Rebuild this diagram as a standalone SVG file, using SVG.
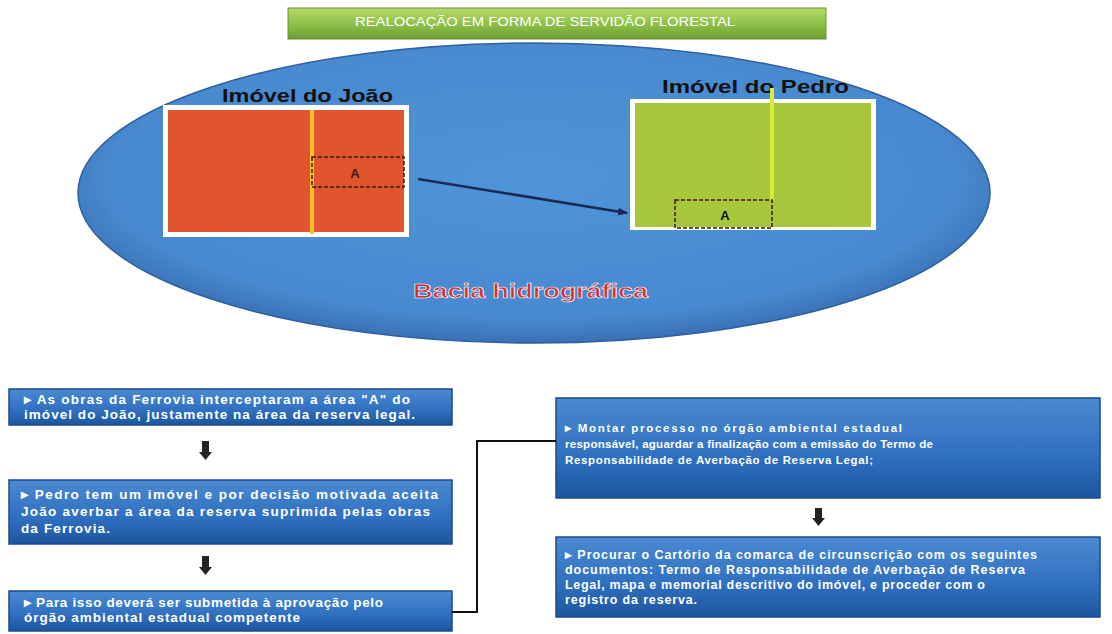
<svg xmlns="http://www.w3.org/2000/svg" width="1112" height="634" viewBox="0 0 1112 634">
<defs>
<linearGradient id="gTitle" x1="0" y1="0" x2="0" y2="1"><stop offset="0" stop-color="#b5dc6a"/><stop offset="0.5" stop-color="#8fc24a"/><stop offset="1" stop-color="#6e9e32"/></linearGradient>
<radialGradient id="gEll" cx="0.5" cy="0.45" r="0.55"><stop offset="0" stop-color="#4f95d8"/><stop offset="0.85" stop-color="#4889cf"/><stop offset="1" stop-color="#3a70b4"/></radialGradient>
<linearGradient id="gBox" x1="0" y1="0" x2="0" y2="1"><stop offset="0" stop-color="#4a8ad2"/><stop offset="0.6" stop-color="#2f6fbf"/><stop offset="1" stop-color="#1d559e"/></linearGradient>
<marker id="ah" markerWidth="10" markerHeight="8" refX="9" refY="4" orient="auto" markerUnits="userSpaceOnUse"><path d="M0,0 L10,4 L0,8 z" fill="#1b2a55"/></marker>
</defs>
<style>
.box{fill:url(#gBox);stroke:#1a4a88;stroke-width:1.5}
.bt{font-family:"Liberation Sans",Arial,sans-serif;font-weight:bold;fill:#ffffff}
.lbl{font-family:"Liberation Sans",Arial,sans-serif;font-weight:bold;fill:#111;font-size:18px}
.dash{fill:none;stroke:#3a1a10;stroke-width:1.5;stroke-dasharray:4 2}
.dn{fill:#222}
</style>
<rect width="1112" height="634" fill="#ffffff"/>
<g id="title">
<rect x="288" y="8" width="538" height="31" fill="url(#gTitle)" stroke="#6a8a3a" stroke-width="1"/>
<text x="355" y="26" font-family="Liberation Sans, Arial, sans-serif" font-size="12" fill="#ffffff" textLength="380" lengthAdjust="spacingAndGlyphs">REALOCAÇÃO EM FORMA DE SERVIDÃO FLORESTAL</text>
</g>
<g id="bacia">
<ellipse cx="534" cy="193" rx="456" ry="150" fill="url(#gEll)" stroke="#2f5f9c" stroke-width="1.5"/>
<text x="413" y="298" font-family="Liberation Sans, Arial, sans-serif" font-weight="bold" font-size="20" fill="#d0303a" stroke="#ffffff" stroke-width="0.6" textLength="235" lengthAdjust="spacingAndGlyphs">Bacia hidrográfica</text>
</g>
<g id="joao">
<text x="222" y="102" class="lbl" textLength="171" lengthAdjust="spacingAndGlyphs">Imóvel do João</text>
<rect x="163" y="105" width="246" height="132" fill="#ffffff"/>
<rect x="168" y="110" width="236" height="122" fill="#e0542e"/>
<rect x="310" y="110" width="4" height="124" fill="#f2c12a"/>
<rect x="312" y="157" width="92" height="30" class="dash"/>
<text x="355" y="178" text-anchor="middle" font-family="Liberation Sans, Arial, sans-serif" font-weight="bold" font-size="13" fill="#3a1a10">A</text>
</g>
<g id="pedro">
<text x="662" y="93" class="lbl" textLength="187" lengthAdjust="spacingAndGlyphs">Imóvel do Pedro</text>
<rect x="630" y="99" width="246" height="131" fill="#ffffff"/>
<rect x="635" y="103" width="236" height="124" fill="#a8c63c"/>
<rect x="770" y="88" width="4" height="112" fill="#d8ec30"/>
<rect x="675" y="200" width="97" height="28" class="dash" stroke="#1a1a10"/>
<text x="725" y="220" text-anchor="middle" font-family="Liberation Sans, Arial, sans-serif" font-weight="bold" font-size="13" fill="#111">A</text>
</g>
<g id="steps">
<g id="box1">
<rect x="9" y="389" width="443" height="36" class="box"/>
<text class="bt" font-size="13.5"><tspan x="24" y="404" textLength="386" lengthAdjust="spacing">▸ As obras da Ferrovia interceptaram a área "A" do</tspan><tspan x="24" y="419" textLength="391" lengthAdjust="spacing">imóvel do João, justamente na área da reserva legal.</tspan></text>
</g>
<g id="box2">
<rect x="9" y="480" width="443" height="64" class="box"/>
<text class="bt" font-size="13.5"><tspan x="21" y="499" textLength="417" lengthAdjust="spacing">▸ Pedro tem um imóvel e por decisão motivada aceita</tspan><tspan x="21" y="516" textLength="409" lengthAdjust="spacing">João averbar a área da reserva suprimida pelas obras</tspan><tspan x="21" y="533" textLength="89" lengthAdjust="spacing">da Ferrovia.</tspan></text>
</g>
<g id="box3">
<rect x="9" y="591" width="443" height="40" class="box"/>
<text class="bt" font-size="13.5"><tspan x="24" y="607" textLength="359" lengthAdjust="spacing">▸ Para isso deverá ser submetida à aprovação pelo</tspan><tspan x="24" y="622" textLength="276" lengthAdjust="spacing">órgão ambiental estadual competente</tspan></text>
</g>
<g id="box4">
<rect x="556" y="398" width="544" height="100" class="box"/>
<text class="bt" font-size="11.5"><tspan x="565" y="432" textLength="337" lengthAdjust="spacing">▸ Montar processo no órgão ambiental estadual</tspan><tspan x="565" y="448" textLength="368" lengthAdjust="spacing">responsável, aguardar a finalização com a emissão do Termo de</tspan><tspan x="565" y="464" textLength="308" lengthAdjust="spacing">Responsabilidade de Averbação de Reserva Legal;</tspan></text>
</g>
<g id="box5">
<rect x="556" y="537" width="544" height="80" class="box"/>
<text class="bt" font-size="12.5"><tspan x="565" y="559" textLength="472" lengthAdjust="spacing">▸ Procurar o Cartório da comarca de circunscrição com os seguintes</tspan><tspan x="565" y="574" textLength="460" lengthAdjust="spacing">documentos: Termo de Responsabilidade de Averbação de Reserva</tspan><tspan x="565" y="589" textLength="420" lengthAdjust="spacing">Legal, mapa e memorial descritivo do imóvel, e proceder com o</tspan><tspan x="565" y="604" textLength="132" lengthAdjust="spacing">registro da reserva.</tspan></text>
</g>
</g>
<g id="connectors">
<line x1="418" y1="179" x2="627" y2="213" stroke="#1b2a55" stroke-width="2.5" marker-end="url(#ah)"/>
<polyline points="452,612 477,612 477,441 556,441" fill="none" stroke="#111" stroke-width="2"/>
<path class="dn" d="M202,441 h7 v11 h3 l-6.5,8 l-6.5,-8 h3 z"/>
<path class="dn" d="M202,556 h7 v11 h3 l-6.5,8 l-6.5,-8 h3 z"/>
<path class="dn" d="M815,508 h7 v10 h3 l-6.5,8 l-6.5,-8 h3 z"/>
</g>
</svg>
